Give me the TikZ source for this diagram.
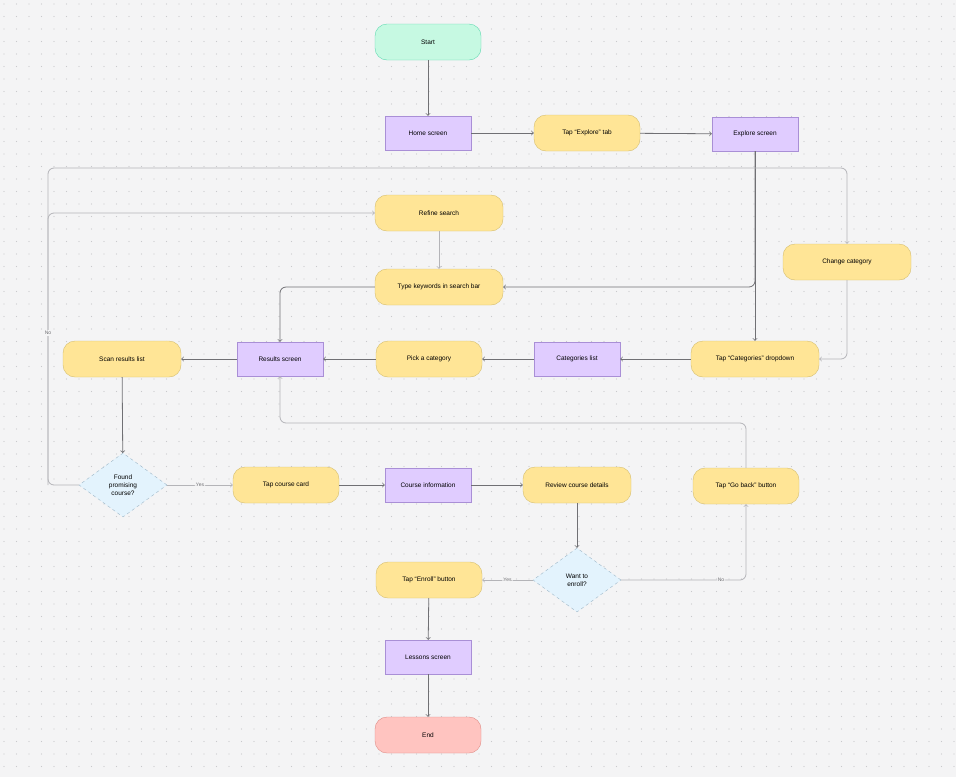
\documentclass[tikz,border=0pt]{standalone}
\usepackage{fontspec}
\setmainfont{Liberation Sans}
\usetikzlibrary{shapes.geometric}
\definecolor{bg}{HTML}{F4F4F5}
\definecolor{dotc}{HTML}{C9C9CC}
\definecolor{termfill}{HTML}{FFE596}
\definecolor{termline}{HTML}{D6BE6E}
\definecolor{scrfill}{HTML}{E0CCFF}
\definecolor{scrline}{HTML}{A98FD6}
\definecolor{decfill}{HTML}{E3F3FD}
\definecolor{decline}{HTML}{9DB7C8}
\definecolor{startfill}{HTML}{C6F9E2}
\definecolor{startline}{HTML}{5ED9B0}
\definecolor{endfill}{HTML}{FFC4C0}
\definecolor{endline}{HTML}{E08C86}
\definecolor{darkarr}{HTML}{707074}
\definecolor{lightarr}{HTML}{B4B4B8}
\begin{document}
\begin{tikzpicture}[x=1pt,y=-1pt,font=\fontsize{6.5}{8}\selectfont,
		action/.style={rounded corners=12pt, fill=termfill, draw=termline, minimum width=106pt, minimum height=36pt, inner sep=1pt},
		wide/.style={action, minimum width=128pt},
		screen/.style={rectangle, fill=scrfill, draw=scrline, minimum width=86pt, minimum height=34pt, inner sep=1pt},
		decision/.style={diamond, aspect=1.4, fill=decfill, draw=decline, dashed, minimum width=88pt, minimum height=64pt, inner sep=0pt, align=center},
		dark/.style={->, >=to, draw=darkarr, thick, rounded corners=6pt},
		light/.style={->, >=to, draw=lightarr, thick, rounded corners=6pt},
		lbl/.style={fill=bg, inner sep=1pt, font=\fontsize{5}{6}\selectfont, text=darkarr}]
	\fill[bg] (0,0) rectangle (956,777);
	\useasboundingbox (0,0) rectangle (956,777);
	\foreach \i in {0,...,76} {
	   \foreach \j in {0,...,62} {
	      \fill[dotc] (\i*12.5+4,\j*12.5+4) circle (0.6pt);
	      }}
	\node[action, fill=startfill, draw=startline] (start) at (428,42) {Start};
	\node[screen] (home) at (428,133) {Home screen};
	\node[action] (tapexplore) at (587,133) {Tap ``Explore'' tab};
	\node[screen] (explore) at (755,134) {Explore screen};
	\node[wide] (refine) at (439,213) {Refine search};
	\node[wide] (changecat) at (847,262) {Change category};
	\node[wide] (type) at (439,287) {Type keywords in search bar};
	\node[action, minimum width=118pt] (scan) at (122,359) {Scan results list};
	\node[screen] (results) at (280,359) {Results screen};
	\node[action] (pick) at (429,359) {Pick a category};
	\node[screen] (catlist) at (577,359) {Categories list};
	\node[wide] (tapcat) at (755,359) {Tap ``Categories'' dropdown};
	\node[decision] (found) at (123,485) {Found\\promising\\course?};
	\node[action] (tapcard) at (286,485) {Tap course card};
	\node[screen] (courseinfo) at (428,485) {Course information};
	\node[action, minimum width=108pt] (review) at (577,485) {Review course details};
	\node[action] (goback) at (746,486) {Tap ``Go back'' button};
	\node[decision] (want) at (577,580) {Want to\\enroll?};
	\node[action] (enroll) at (429,580) {Tap ``Enroll'' button};
	\node[screen] (lessons) at (428,657) {Lessons screen};
	\node[action, fill=endfill, draw=endline] (end) at (428,735) {End};
	\coordinate (nocorner) at (48,485);
	\draw[dark] (start) -- (home);
	\draw[dark] (home) -- (tapexplore);
	\draw[dark] (tapexplore) -- (explore);
	\draw[dark] (explore.south) |- (type.east);
	\draw[dark] (explore.south) -- (tapcat.north);
	\draw[light] (found.west) -- (nocorner) |- (changecat.north |- 0,168) -- (changecat.north);
	\draw[light] (nocorner) |- (refine.west);
	\node[lbl] at (48,333) {No};
	\draw[light] (refine) -- (type);
	\draw[dark] (type.west) -| (results.north);
	\draw[light] (changecat.south) |- (tapcat.east);
	\draw[dark] (tapcat) -- (catlist);
	\draw[dark] (catlist) -- (pick);
	\draw[dark] (pick) -- (results);
	\draw[dark] (results) -- (scan);
	\draw[dark] (scan) -- (found);
	\draw[light] (found) -- node[lbl] {Yes} (tapcard);
	\draw[dark] (tapcard) -- (courseinfo);
	\draw[dark] (courseinfo) -- (review);
	\draw[dark] (review) -- (want);
	\draw[light] (want) -- node[lbl] {Yes} (enroll);
	\draw[light] (want.east) -| node[lbl, pos=0.4] {No} (goback.south);
	\draw[light] (goback.north) |- (results.south |- 0,423) -- (results.south);
	\draw[dark] (enroll) -- (lessons);
	\draw[dark] (lessons) -- (end);
\end{tikzpicture}
\end{document}
